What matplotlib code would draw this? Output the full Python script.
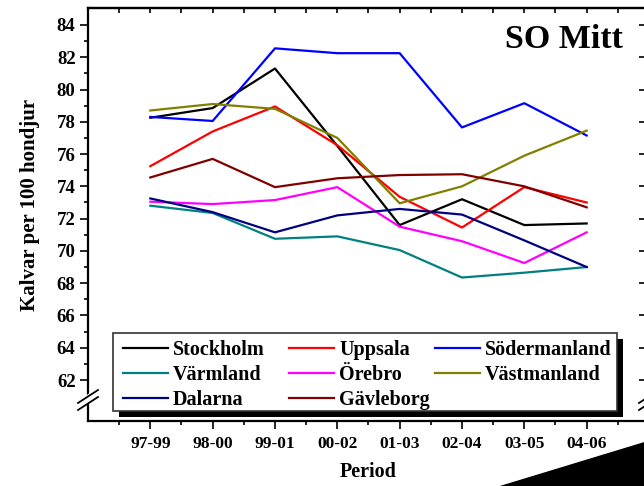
import matplotlib
matplotlib.use('Agg')
import matplotlib.pyplot as plt
from matplotlib.lines import Line2D
from matplotlib.patches import Rectangle, Polygon
import numpy as np

# ---- data ----
periods = ['97-99', '98-00', '99-01', '00-02', '01-03', '02-04', '03-05', '04-06']
stockholm = [78.25, 78.85, 81.3, 76.5, 71.6, 73.2, 71.6, 71.7]
uppsala = [75.25, 77.4, 78.95, 76.55, 73.35, 71.45, 73.95, 73.0]
sodermanland = [78.3, 78.05, 82.55, 82.25, 82.25, 77.65, 79.15, 77.15]
varmland = [72.8, 72.35, 70.75, 70.9, 70.05, 68.35, 68.65, 69.0]
orebro = [73.05, 72.9, 73.15, 73.95, 71.5, 70.6, 69.25, 71.15]
vastmanland = [78.7, 79.1, 78.8, 77.0, 72.95, 74.0, 75.9, 77.45]
dalarna = [73.25, 72.4, 71.15, 72.2, 72.6, 72.25, 70.65, 69.0]
gavleborg = [74.55, 75.7, 73.95, 74.5, 74.7, 74.75, 74.0, 72.7]

names = ['Stockholm', 'Uppsala', 'Södermanland', 'Värmland', 'Örebro',
         'Västmanland', 'Dalarna', 'Gävleborg']
series = [stockholm, uppsala, sodermanland, varmland, orebro,
          vastmanland, dalarna, gavleborg]
colors = ['#000000', '#FF0000', '#0000FF', '#008080', '#FF00FF',
          '#808000', '#000080', '#800000']
y_ticks = list(range(62, 85, 2))

W, H = 644, 486
FONT = 'Liberation Serif'


def P(x, y):
    return (x / W, 1 - y / H)


fig = plt.figure(figsize=(W / 100, H / 100), dpi=100)
ax = fig.add_axes([88 / W, 1 - 421 / H, (649 - 88) / W, 413 / H])

xs = np.arange(len(periods))
handles = {}
for name, vals, c in zip(names, series, colors):
    ln, = ax.plot(xs, vals, color=c, lw=1.6, label=name)
    handles[name] = ln

ax.set_xlim(-1, 8)
ax.set_ylim(59.46, 85.05)
ax.set_xticks(xs)
ax.set_xticklabels(periods, fontfamily=FONT, fontweight='bold', fontsize=12.5)
ax.set_xticks(np.arange(-0.5, 8, 1), minor=True)
ax.set_yticks(y_ticks)
ax.set_yticklabels([str(v) for v in y_ticks], fontfamily=FONT,
                   fontweight='bold', fontsize=13.5)
ax.set_yticks(range(63, 84, 2), minor=True)
ax.tick_params(which='major', direction='out', length=6, width=1.2, pad=3)
ax.tick_params(which='minor', direction='out', length=3, width=1.2)
ax.tick_params(axis='x', which='major', pad=5)
for s in ax.spines.values():
    s.set_linewidth(1.6)

# top ticks (inward, every half period)
top = ax.secondary_xaxis('top')
top.set_xticks(np.arange(-0.5, 8, 0.5))
top.tick_params(axis='x', direction='in', length=3.5, width=1.2, labeltop=False)
top.spines['top'].set_linewidth(1.6)

# right ticks (inward)
right = ax.secondary_yaxis('right')
right.set_yticks(y_ticks)
right.tick_params(axis='y', direction='in', length=7, width=1.2, labelright=False)
right.spines['right'].set_linewidth(1.6)

# axis break marks
for xb in (88, 649):
    gap = Polygon([P(xb - 3, 397), P(xb + 3, 393), P(xb + 3, 400), P(xb - 3, 404)],
                  closed=True, transform=fig.transFigure, color='white', zorder=10)
    fig.add_artist(gap)
    for dy in (0, 7):
        fig.add_artist(Line2D([(xb - 10) / W, (xb + 10) / W],
                              [1 - (403 + dy) / H, 1 - (390 + dy) / H],
                              transform=fig.transFigure, color='black',
                              lw=1.3, zorder=11))

# legend box with shadow
fig.add_artist(Rectangle(P(119, 417), (623 - 119) / W, (417 - 339) / H,
                         transform=fig.transFigure, facecolor='black',
                         edgecolor='none', zorder=3))
fig.add_artist(Rectangle(P(113, 411), (617 - 113) / W, (411 - 333) / H,
                         transform=fig.transFigure, facecolor='white',
                         edgecolor='#333333', lw=1.2, zorder=4))

cols = [(['Stockholm', 'Värmland', 'Dalarna'], 123),
        (['Uppsala', 'Örebro', 'Gävleborg'], 289),
        (['Södermanland', 'Västmanland'], 435)]
prop = {'family': FONT, 'weight': 'bold', 'size': 14.5}
for labels, x0 in cols:
    leg = fig.legend([handles[n] for n in labels], labels, loc='upper left',
                     bbox_to_anchor=P(x0, 340), bbox_transform=fig.transFigure,
                     frameon=False, borderpad=0, borderaxespad=0,
                     handlelength=2.24, handletextpad=0.25, labelspacing=0.26,
                     prop=prop)
    leg.set_zorder(6)

# texts
fig.text(*P(564, 39), 'SO Mitt', ha='center', va='center', fontfamily=FONT,
         fontweight='bold', fontsize=24.5)
fig.text(*P(368, 472), 'Period', ha='center', va='center', fontfamily=FONT,
         fontweight='bold', fontsize=14.5)
fig.text(*P(30, 205), 'Kalvar per 100 hondjur', ha='center', va='center',
         rotation=90, fontfamily=FONT, fontweight='bold', fontsize=15)

# black corner shape
fig.add_artist(Polygon([P(489, 490), P(650, 441), P(650, 490)], closed=True,
                       transform=fig.transFigure, color='black', zorder=12))

fig.savefig('out.png', dpi=100)
